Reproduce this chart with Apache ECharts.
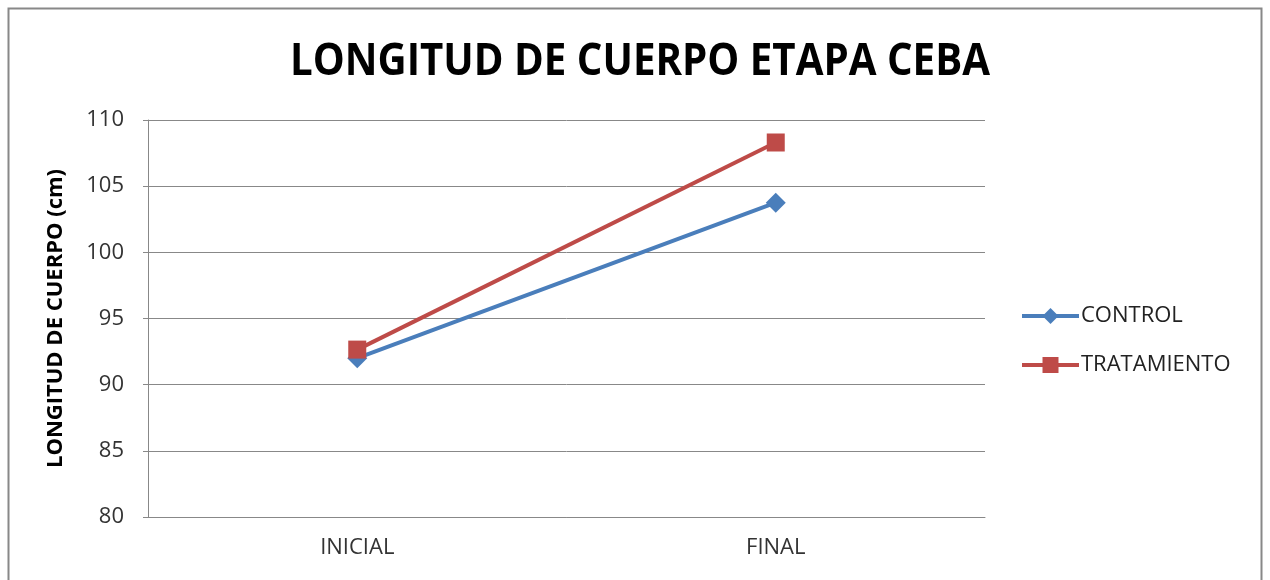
<!DOCTYPE html>
<html><head><meta charset="utf-8">
<script src="https://cdn.jsdelivr.net/npm/echarts@6/dist/echarts.min.js"></script>
<style>html,body{margin:0;padding:0;background:#fff}#c{width:1270px;height:580px}</style>
</head><body><div id="c"></div>
<script>
const categories = ['INICIAL', 'FINAL'];
const controlValues = [92.0, 103.75];
const tratamientoValues = [92.65, 108.3];
const seriesNames = ['CONTROL', 'TRATAMIENTO'];
const titleText = 'LONGITUD DE CUERPO ETAPA CEBA';
const yAxisName = 'LONGITUD DE CUERPO (cm)';

const chart = echarts.init(document.getElementById('c'));
const font = 'Open Sans';
chart.setOption({
  animation: false,
  backgroundColor: '#fff',
  graphic: [
    {type:'rect', shape:{x:8.5,y:8.5,width:1253,height:600}, style:{fill:'none', stroke:'#888', lineWidth:2}},
    {type:'text', x:640, y:62.5, scaleX:0.915, style:{text:titleText, fontFamily:font, fontWeight:'bold', fontSize:44, fill:'#000', align:'center', verticalAlign:'middle'}}
  ],
  legend: {orient: 'vertical', left: 1020, top: 305, padding: 0, itemWidth: 57, itemHeight: 20, itemGap: 27,
    lineStyle: {width: 4},
    textStyle: {fontFamily: font, fontSize: 22, color: '#222', padding: [0,0,0,-3]}, data: seriesNames},
  grid: {left: 148, top: 120, right: 285, bottom: 63},
  xAxis: {type: 'category', data: categories, boundaryGap: true,
    axisLine: {lineStyle: {color: '#888', width: 1}}, axisTick: {show: false},
    axisLabel: {fontFamily: font, fontSize: 22, color: '#333', margin: 20}},
  yAxis: {type: 'value', min: 80, max: 110, interval: 5,
    name: yAxisName, nameLocation: 'middle', nameGap: 81,
    nameTextStyle: {fontFamily: font, fontWeight: 'bold', fontSize: 22, color: '#000'},
    axisLine: {show: true, lineStyle: {color: '#888'}}, axisTick: {show: true, length: 5, lineStyle:{color:'#888'}},
    splitLine: {lineStyle: {color: '#888', width: 1}},
    axisLabel: {fontFamily: font, fontSize: 22, color: '#333', margin: 24}},
  series: [
    {name: seriesNames[0], type: 'line', data: controlValues, symbol: 'diamond', symbolSize: 20,
      lineStyle: {width: 4, color: '#4A7EBB'}, itemStyle: {color: '#4A7EBB'}},
    {name: seriesNames[1], type: 'line', data: tratamientoValues, symbol: 'rect', symbolSize: 18,
      lineStyle: {width: 4, color: '#BE4B48'}, itemStyle: {color: '#BE4B48'}}
  ]
});
</script></body></html>
